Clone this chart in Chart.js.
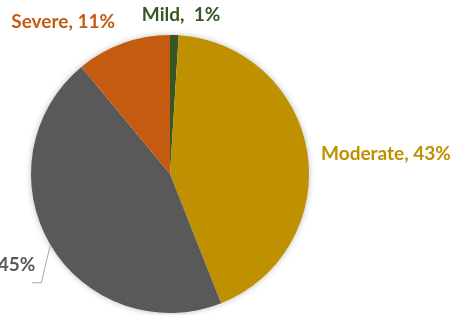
<!DOCTYPE html>
<html>
<head>
<meta charset="utf-8">
<script src="https://cdn.jsdelivr.net/npm/chart.js@4.4.1/dist/chart.umd.min.js"></script>
<style>
  html, body { margin: 0; padding: 0; background: #fff; }
  #wrap { position: relative; width: 452px; height: 315px; }
</style>
</head>
<body>
<div id="wrap"><canvas id="chart"></canvas></div>
<script>
// data
const categories = ['Mild', 'Moderate', 'Normal', 'Severe'];
const shares = [1, 43, 45, 11];
const sliceColors = ['#375623', '#BF9000', '#595959', '#C55A11'];

// where each label sits (Excel-style), relative to its slice
const labelSpots = [
  { r: 160, align: 'center', nx: 6, ny: 1, text: (c, v) => c + ',  ' + v + '%' },
  { r: 153, align: 'left',   nx: 0, ny: 4, text: (c, v) => c + ', ' + v + '%' },
  { leader: true, align: 'right', text: (c, v) => c + ', ' + v + '%' },
  { r: 162, align: 'right',  nx: 0, ny: 0, text: (c, v) => c + ', ' + v + '%' }
];

const pieShadow = {
  id: 'pieShadow',
  beforeDatasetsDraw(chart) {
    const arc = chart.getDatasetMeta(0).data[0];
    if (!arc) return;
    const ctx = chart.ctx;
    ctx.save();
    ctx.shadowColor = 'rgba(0,0,0,0.35)';
    ctx.shadowBlur = 7;
    ctx.fillStyle = '#fff';
    ctx.beginPath();
    ctx.arc(arc.x, arc.y, arc.outerRadius - 1, 0, Math.PI * 2);
    ctx.fill();
    ctx.restore();
  }
};

const sliceLabels = {
  id: 'sliceLabels',
  afterDatasetsDraw(chart) {
    const ctx = chart.ctx;
    const arcs = chart.getDatasetMeta(0).data;
    ctx.save();
    ctx.font = 'bold 19px Lato, "Open Sans", sans-serif';
    ctx.textBaseline = 'middle';
    arcs.forEach((arc, i) => {
      const spot = labelSpots[i];
      const mid = (arc.startAngle + arc.endAngle) / 2;
      const dx = Math.cos(mid), dy = Math.sin(mid);
      const txt = spot.text(categories[i], shares[i]);
      ctx.fillStyle = sliceColors[i];
      ctx.textAlign = spot.align;
      if (spot.leader) {
        // label pulled out below-left, tied back with a thin line
        const sx = arc.x + dx * arc.outerRadius;
        const sy = arc.y + dy * arc.outerRadius;
        const bx = sx - 9, by = sy + 38;
        ctx.strokeStyle = '#A6A6A6';
        ctx.lineWidth = 1;
        ctx.beginPath();
        ctx.moveTo(sx, sy);
        ctx.lineTo(bx, by);
        ctx.lineTo(bx - 9, by);
        ctx.stroke();
        ctx.fillText(txt, bx - 6, by - 18);
      } else {
        ctx.fillText(txt, arc.x + dx * spot.r + spot.nx, arc.y + dy * spot.r + spot.ny);
      }
    });
    ctx.restore();
  }
};

new Chart(document.getElementById('chart'), {
  type: 'pie',
  data: {
    labels: categories,
    datasets: [{
      data: shares,
      backgroundColor: sliceColors,
      borderWidth: 0
    }]
  },
  options: {
    responsive: true,
    maintainAspectRatio: false,
    animation: false,
    layout: { padding: { left: 31, right: 143, top: 35, bottom: 2 } },
    plugins: {
      legend: { display: false },
      tooltip: { enabled: false }
    }
  },
  plugins: [pieShadow, sliceLabels]
});
</script>
</body>
</html>
